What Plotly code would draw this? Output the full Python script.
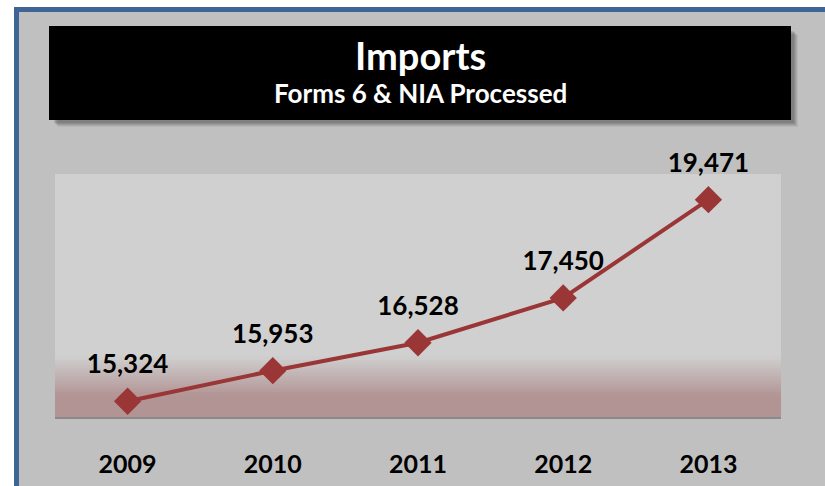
import plotly.graph_objects as go

years = ["2009", "2010", "2011", "2012", "2013"]
values = [15324, 15953, 16528, 17450, 19471]
labels = ["15,324", "15,953", "16,528", "17,450", "19,471"]

W, H = 825, 486
ML, MR, MT, MB = 55, 44, 174, 69
PW = W - ML - MR
PH = H - MT - MB


def px2x(px):
    return (px - ML) / PW


def py2y(py):
    return (H - MB - py) / PH


shapes = []
# blue border and gray panel
shapes.append(dict(type="rect", xref="paper", yref="paper", layer="below",
                   x0=px2x(14), x1=px2x(835), y0=py2y(7), y1=py2y(500),
                   fillcolor="#3f6496", line=dict(width=0)))
shapes.append(dict(type="rect", xref="paper", yref="paper", layer="below",
                   x0=px2x(19), x1=px2x(840), y0=py2y(12), y1=py2y(505),
                   fillcolor="#c0c0c0", line=dict(width=0)))
# title box shadow
for i, a in enumerate([0.08, 0.10, 0.12, 0.14, 0.16]):
    o = 7 - i
    shapes.append(dict(type="rect", xref="paper", yref="paper", layer="below",
                       x0=px2x(49 + o + 2), x1=px2x(791 + o), y0=py2y(26 + o + 2), y1=py2y(120 + o),
                       fillcolor=f"rgba(60,60,60,{a})", line=dict(width=0)))
shapes.append(dict(type="rect", xref="paper", yref="paper", layer="below",
                   x0=px2x(49), x1=px2x(791), y0=py2y(26), y1=py2y(120),
                   fillcolor="#000000", line=dict(width=0)))
# plot area background
shapes.append(dict(type="rect", xref="paper", yref="paper", layer="below",
                   x0=0, x1=1, y0=0, y1=1, fillcolor="#d0d0d0", line=dict(width=0)))
top_c = (208, 208, 208)
bot_c = (178, 148, 148)
g_top, g_bot = 356, 396
n = 20
for i in range(n):
    t = (i + 0.5) / n
    c = tuple(int(round(top_c[k] + (bot_c[k] - top_c[k]) * t)) for k in range(3))
    y0p = g_top + (g_bot - g_top) * i / n
    y1p = g_top + (g_bot - g_top) * (i + 1) / n
    shapes.append(dict(type="rect", xref="paper", yref="paper", layer="below",
                       x0=0, x1=1, y0=py2y(y1p + 0.5), y1=py2y(y0p),
                       fillcolor="rgb(%d,%d,%d)" % c, line=dict(width=0)))
shapes.append(dict(type="rect", xref="paper", yref="paper", layer="below",
                   x0=0, x1=1, y0=0, y1=py2y(g_bot), fillcolor="rgb(%d,%d,%d)" % bot_c,
                   line=dict(width=0)))

fig = go.Figure()
fig.add_trace(go.Scatter(
    x=years, y=values, mode="lines+markers",
    line=dict(color="#9a3636", width=4),
    marker=dict(symbol="diamond", size=21, color="#9a3636"),
    cliponaxis=False, hoverinfo="skip",
))
# data labels (transparent marker sets the label offset)
fig.add_trace(go.Scatter(
    x=years, y=values, mode="markers+text",
    marker=dict(size=33, color="rgba(0,0,0,0)"),
    text=labels, textposition="top center",
    textfont=dict(family="Lato", size=26, color="#000000", weight="bold"),
    cliponaxis=False, hoverinfo="skip",
))

annotations = [
    dict(text="Imports", xref="paper", yref="paper", x=px2x(420), y=py2y(55),
         showarrow=False, xanchor="center", yanchor="middle",
         font=dict(family="Lato", size=38, color="#ffffff", weight="bold")),
    dict(text="Forms 6 & NIA Processed", xref="paper", yref="paper", x=px2x(420), y=py2y(93),
         showarrow=False, xanchor="center", yanchor="middle",
         font=dict(family="Lato", size=26, color="#ffffff", weight="bold")),
]

fig.update_layout(
    width=W, height=H,
    margin=dict(l=ML, r=MR, t=MT, b=MB, pad=0, autoexpand=False),
    paper_bgcolor="#ffffff",
    plot_bgcolor="rgba(0,0,0,0)",
    showlegend=False,
    shapes=shapes,
    annotations=annotations,
    xaxis=dict(type="category", range=[-0.5, 4.5], showgrid=False, zeroline=False,
               showline=True, linecolor="#8a8a8a", linewidth=2,
               ticks="outside", ticklen=24, tickcolor="rgba(0,0,0,0)",
               tickfont=dict(family="Lato", size=25, color="#000000", weight="bold"),
               automargin=False, fixedrange=True),
    yaxis=dict(range=[15000, 20000], showgrid=False, zeroline=False, showticklabels=False,
               showline=False, automargin=False, fixedrange=True),
)

fig.write_html("out.html", config={"displayModeBar": False},
               post_script="document.body.style.margin='0px';")
